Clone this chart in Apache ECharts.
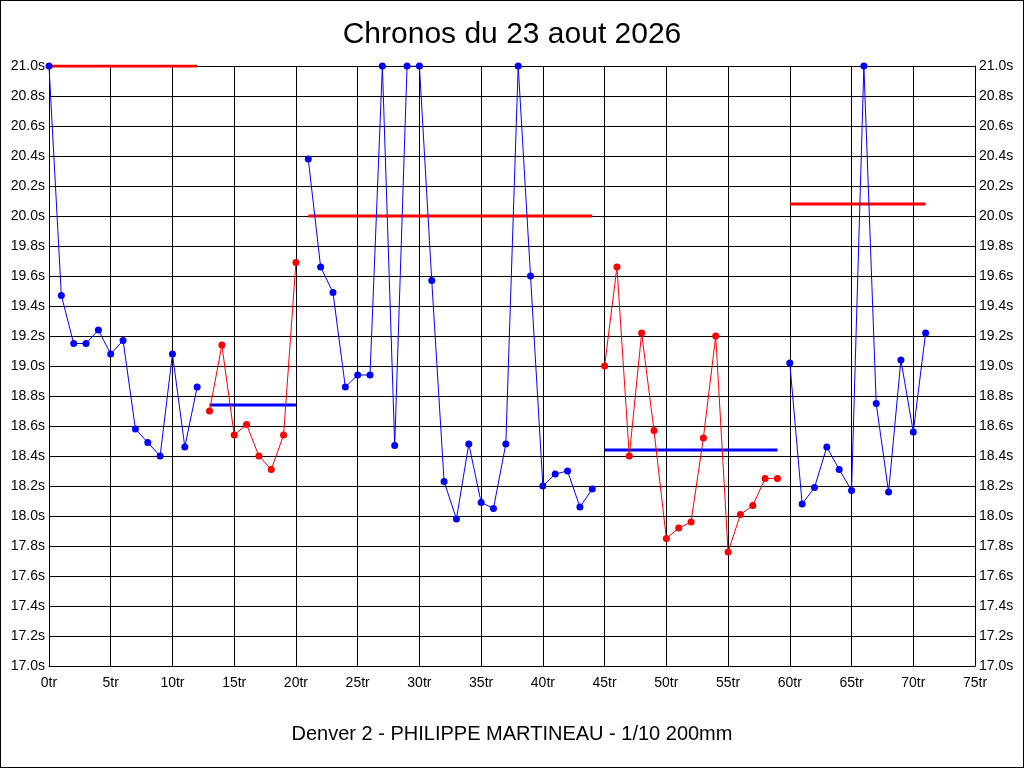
<!DOCTYPE html>
<html>
<head>
<meta charset="utf-8">
<script src="https://cdn.jsdelivr.net/npm/echarts@6/dist/echarts.min.js"></script>
<style>
  html, body { margin: 0; padding: 0; background: #fff; }
  #chart { width: 1024px; height: 768px; box-sizing: border-box; border: 1px solid #000; }
</style>
</head>
<body>
<div id="chart"></div>
<script>
// chronos par tour (secondes), chaque serie commence a un tour donne
var run1Start = 0;
var run1 = [21.0, 19.47, 19.15, 19.15, 19.24, 19.08, 19.17, 18.58, 18.49, 18.40, 19.08, 18.46, 18.86];
var run2Start = 13;
var run2 = [18.70, 19.14, 18.54, 18.61, 18.40, 18.31, 18.54, 19.69];
var run3Start = 21;
var run3 = [20.38, 19.66, 19.49, 18.86, 18.94, 18.94, 21.0, 18.47, 21.0, 21.0, 19.57, 18.23,
            17.98, 18.48, 18.09, 18.05, 18.48, 21.0, 19.60, 18.20, 18.28, 18.30, 18.06, 18.18];
var run4Start = 45;
var run4 = [19.00, 19.66, 18.40, 19.22, 18.57, 17.85, 17.92, 17.96, 18.52, 19.20, 17.76, 18.01,
            18.07, 18.25, 18.25];
var run5Start = 60;
var run5 = [19.02, 18.08, 18.19, 18.46, 18.31, 18.17, 21.0, 18.75, 18.16, 19.04, 18.56, 19.22];

// moyennes par serie (trait epais de la couleur opposee)
var avgRun1 = 21.0;
var avgRun2 = 18.74;
var avgRun3 = 20.0;
var avgRun4 = 18.44;
var avgRun5 = 20.08;

var BLUE = '#0000ff', RED = '#ff0000';

function pts(start, vals) {
  return vals.map(function (v, i) { return [start + i, v]; });
}
function runSeries(start, vals, color) {
  return {
    type: 'line', data: pts(start, vals), color: color,
    symbol: 'circle', symbolSize: 7,
    lineStyle: { width: 1, color: color },
    itemStyle: { color: color },
    animation: false, z: 3
  };
}
function avgSeries(start, vals, avg, color) {
  return {
    type: 'line', data: [[start, avg], [start + vals.length - 1, avg]],
    showSymbol: false, symbol: 'none',
    lineStyle: { width: 3, color: color },
    animation: false, z: 2
  };
}

var FONT = 'Liberation Sans, Arial, sans-serif';
var axisFont = { fontFamily: FONT, fontSize: 14, color: '#000' };

var chart = echarts.init(document.getElementById('chart'));
chart.setOption({
  backgroundColor: '#fff',
  title: [
    { text: 'Chronos du 23 aout 2026', left: 'center', top: 14,
      textStyle: { fontFamily: FONT, fontSize: 30, fontWeight: 'normal', color: '#000' } },
    { text: 'Denver 2 - PHILIPPE MARTINEAU - 1/10 200mm', left: 'center', top: 718,
      textStyle: { fontFamily: FONT, fontSize: 20, fontWeight: 'normal', color: '#000' } }
  ],
  grid: { left: 48, right: 48, top: 65, bottom: 101, containLabel: false },
  xAxis: {
    type: 'value', min: 0, max: 75, interval: 5,
    axisLine: { show: true, lineStyle: { color: '#000', width: 1 } },
    axisTick: { show: false },
    splitLine: { show: true, lineStyle: { color: '#000', width: 1 } },
    axisLabel: Object.assign({ formatter: '{value}tr', margin: 10 }, axisFont)
  },
  yAxis: [
    {
      type: 'value', min: 17.0, max: 21.0, interval: 0.2, position: 'left',
      axisLine: { show: true, lineStyle: { color: '#000', width: 1 } },
      axisTick: { show: false },
      splitLine: { show: true, lineStyle: { color: '#000', width: 1 } },
      axisLabel: Object.assign({ formatter: function (v) { return v.toFixed(1) + 's'; }, margin: 4 }, axisFont)
    },
    {
      type: 'value', min: 17.0, max: 21.0, interval: 0.2, position: 'right',
      axisLine: { show: true, lineStyle: { color: '#000', width: 1 } },
      axisTick: { show: false },
      splitLine: { show: false },
      axisLabel: Object.assign({ formatter: function (v) { return v.toFixed(1) + 's'; }, margin: 4 }, axisFont)
    }
  ],
  series: [
    avgSeries(run1Start, run1, avgRun1, RED),
    avgSeries(run2Start, run2, avgRun2, BLUE),
    avgSeries(run3Start, run3, avgRun3, RED),
    avgSeries(run4Start, run4, avgRun4, BLUE),
    avgSeries(run5Start, run5, avgRun5, RED),
    runSeries(run1Start, run1, BLUE),
    runSeries(run2Start, run2, RED),
    runSeries(run3Start, run3, BLUE),
    runSeries(run4Start, run4, RED),
    runSeries(run5Start, run5, BLUE)
  ]
});
</script>
</body>
</html>
